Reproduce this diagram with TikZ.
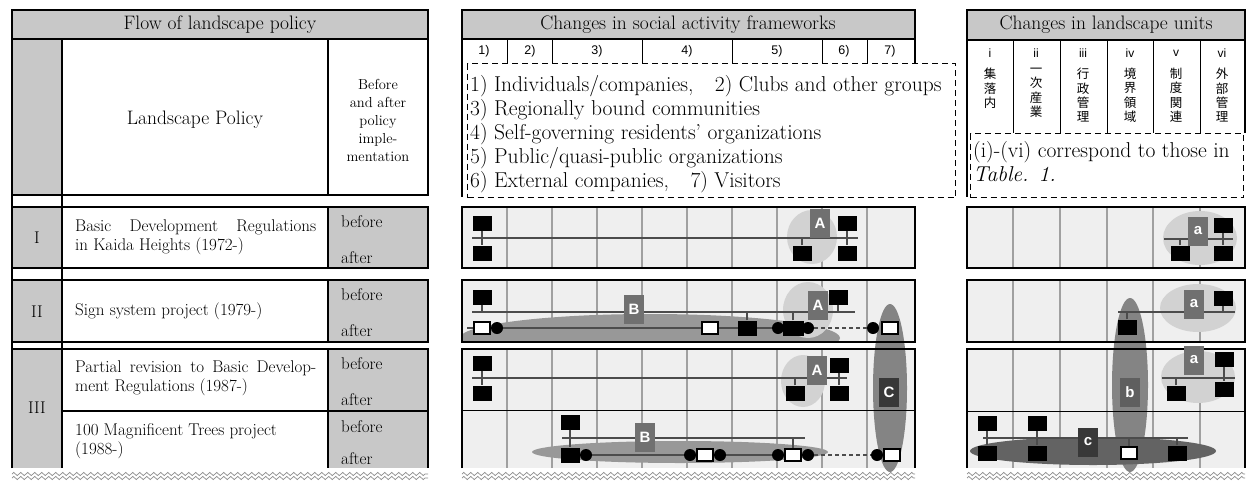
\documentclass[tikz,border=0pt]{standalone}
\usepackage{fontspec}
\usepackage{tikz}
\usetikzlibrary{decorations.pathmorphing}
\newfontfamily\arialfont{Liberation Sans}
\newfontfamily\jpfont{Noto Sans CJK JP}
\definecolor{hdrgray}{RGB}{200,200,200}
\definecolor{rowgray}{RGB}{239,239,239}
\definecolor{gridgray}{RGB}{160,160,160}
\definecolor{zonelight}{RGB}{210,210,210}
\definecolor{zonemid}{RGB}{152,152,152}
\definecolor{zonedark}{RGB}{132,132,132}
\definecolor{tagmid}{RGB}{112,112,112}
\definecolor{tagdark}{RGB}{56,56,56}
\newcommand\jline[1]{\makebox[241pt][s]{#1}}

\begin{document}
\begin{tikzpicture}[
  x=1pt, y=-1pt,
  every node/.style={font=\fontsize{17}{19.5}\selectfont, inner sep=0pt},
  rowframe/.style={line width=2.6pt},
  thinsep/.style={line width=0.9pt},
  gridln/.style={draw=gridgray, line width=1.1pt},
  legbox/.style={draw, line width=1.3pt, dash pattern=on 6pt off 4pt, fill=white, anchor=north west},
  legtext/.style={anchor=north west, align=left, font=\fontsize{21.5}{24}\selectfont},
  hdr/.style={font=\fontsize{19.5}{20}\selectfont},
  numlab/.style={font=\arialfont\fontsize{12.5}{12}\selectfont},
  jp/.style={align=center, anchor=north, font=\jpfont\fontsize{12.5}{14.3}\selectfont},
  blk/.style={fill=black, minimum width=19pt, minimum height=15pt},
  wht/.style={draw, line width=1.6pt, fill=white, minimum width=16pt, minimum height=12pt},
  dot/.style={circle, fill=black, minimum size=12pt},
  tag/.style={minimum width=20pt, minimum height=29pt, text=white, fill=tagmid,
    font=\arialfont\bfseries\fontsize{15}{15}\selectfont},
  bar/.style={draw=black!70, line width=1.6pt},
  gap/.style={bar, dash pattern=on 4pt off 3pt},
  zig/.style={draw=black!45, line width=0.7pt, decorate,
    decoration={zigzag, segment length=7pt, amplitude=1.6pt}}
]
\useasboundingbox (0,0) rectangle (1247,482);

% Row backgrounds and grid
\foreach \t/\b in {207/268,280/342,349/468}{
  \fill[hdrgray] (12,\t) rectangle (62,\b);
  \fill[hdrgray] (328,\t) rectangle (428,\b);
  \fill[rowgray] (462,\t) rectangle (915,\b);
  \fill[rowgray] (967,\t) rectangle (1245,\b);
  \foreach \x in {507,552,597,642,687,732,777,822,867} \draw[gridln] (\x,\t) -- (\x,\b);
  \foreach \x in {1013,1060,1107,1153,1200} \draw[gridln] (\x,\t) -- (\x,\b);
}

% Zones
\begin{scope}
  \clip (462,280) rectangle (915,342);
  \fill[zonemid] (650,338) ellipse [x radius=190pt, y radius=24pt];
\end{scope}
\fill[zonemid] (680,452) ellipse [x radius=148pt, y radius=11pt];
\fill[zonelight] (812,237) ellipse [x radius=25pt, y radius=27pt];
\fill[zonelight] (808,310) ellipse [x radius=25pt, y radius=28pt];
\fill[zonelight] (803,381) ellipse [x radius=22pt, y radius=26pt];
\fill[zonedark] (890,388) ellipse [x radius=17pt, y radius=84pt];
\fill[zonelight] (1200,238) ellipse [x radius=37pt, y radius=27pt];
\fill[zonelight] (1198,308) ellipse [x radius=38pt, y radius=24pt];
\fill[zonelight] (1198,377) ellipse [x radius=37pt, y radius=26pt];
\fill[zonedark] (1130,385) ellipse [x radius=18pt, y radius=87pt];
\fill[zonedark!75!black] (1093,451) ellipse [x radius=123pt, y radius=14pt];

% Left panel: flow of landscape policy
\fill[hdrgray] (12,10) rectangle (428,39);
\fill[hdrgray] (12,39) rectangle (62,195);
\draw[rowframe] (12,10) rectangle (428,39);
\draw[rowframe] (12,39) rectangle (428,195);
\draw[rowframe] (62,39) -- (62,195) (328,39) -- (328,195);
\draw[rowframe] (12,195) -- (12,468) (62,195) -- (62,468);
\draw[rowframe] (12,207) rectangle (428,268);
\draw[rowframe] (12,280) rectangle (428,342);
\draw[rowframe] (12,468) |- (428,349) -- (428,468);
\draw[rowframe] (328,207) -- (328,268) (328,280) -- (328,342) (328,349) -- (328,468);
\draw[rowframe] (62,411) -- (428,411);
\node[hdr] (flowT) at (220,25) {Flow of landscape policy};
\node[font=\fontsize{19.5}{20}\selectfont] (lpT) at (195,120) {Landscape Policy};
\node[align=center, font=\fontsize{14.5}{18}\selectfont] (baT) at (378,120) {Before\\and after\\policy\\imple-\\mentation};
\node (rI) at (37,238) {I};
\node (rII) at (37,312) {II};
\node (rIII) at (37,408) {III};
\node[anchor=west, align=left] (pol1) at (75,237) {\jline{Basic Development Regulations}\\in Kaida Heights (1972-)};
\node[anchor=west] (pol2) at (75,311) {Sign system project (1979-)};
\node[anchor=west, align=left] (pol3) at (75,378) {\jline{Partial revision to Basic Develop-}\\ment Regulations (1987-)};
\node[anchor=west, align=left] (pol4) at (75,441) {100 Magnificent Trees project\\(1988-)};
\foreach \i/\yb/\ya in {1/222/258,2/295/331,3/364/400,4/427/459}{
  \node[anchor=west] (bf\i) at (341,\yb) {before};
  \node[anchor=west] (af\i) at (341,\ya) {after};
}

% Middle panel: social activity frameworks
\fill[hdrgray] (462,10) rectangle (915,39);
\draw[rowframe] (462,10) rectangle (915,39);
\draw[rowframe] (462,39) -- (462,197);
\draw[rowframe] (915,39) -- (915,63);
\foreach \x in {507,552,642,732,822,867} \draw[thinsep] (\x,39) -- (\x,63);
\node[hdr] (socT) at (688,25) {Changes in social activity frameworks};
\foreach \n/\x in {1/484,2/530,3/597,4/687,5/777,6/844,7/890}
  \node[numlab] (num\n) at (\x,51) {\n)};
\node[legbox, minimum width=488pt, minimum height=134pt] (legS) at (467,63) {};
\node[legtext] (legSt) at ([xshift=3pt, yshift=-12pt]legS.north west)
  {1) Individuals/companies,\quad 2) Clubs and other groups\\
   3) Regionally bound communities\\
   4) Self-governing residents' organizations\\
   5) Public/quasi-public organizations\\
   6) External companies,\quad 7) Visitors};
\draw[rowframe] (462,207) rectangle (915,268);
\draw[rowframe] (462,280) rectangle (915,342);
\draw[rowframe] (462,468) |- (915,349) -- (915,468);
\draw[thinsep] (462,410) -- (915,410);

% Right panel: landscape units
\fill[hdrgray] (967,10) rectangle (1245,40);
\draw[rowframe] (967,10) rectangle (1245,40);
\draw[rowframe] (967,40) -- (967,197);
\draw[rowframe] (1245,40) -- (1245,133);
\foreach \x in {1013,1060,1107,1153,1200} \draw[thinsep] (\x,40) -- (\x,133);
\node[hdr] (lanT) at (1106,25) {Changes in landscape units};
\foreach \n/\x/\r in {1/990/i,2/1036/ii,3/1083/iii,4/1130/iv,5/1176/v,6/1222/vi}
  \node[font=\arialfont\fontsize{12}{12}\selectfont] (rn\n) at (\x,53) {\r};
\node[jp] (jp1) at (990,68) {集\\落\\内};
\node[jp] (jp2) at (1036,68) {一\\次\\産\\業};
\node[jp] (jp3) at (1083,68) {行\\政\\管\\理};
\node[jp] (jp4) at (1130,68) {境\\界\\領\\域};
\node[jp] (jp5) at (1176,68) {制\\度\\関\\連};
\node[jp] (jp6) at (1222,68) {外\\部\\管\\理};
\node[legbox, minimum width=273pt, minimum height=64pt] (legU) at (970,133) {};
\node[legtext] (legUt) at ([xshift=3pt, yshift=-8pt]legU.north west)
  {(i)-(vi) correspond to those in\\\textit{Table. 1.}};
\draw[rowframe] (967,207) rectangle (1245,268);
\draw[rowframe] (967,280) rectangle (1245,342);
\draw[rowframe] (967,468) |- (1245,349) -- (1245,468);
\draw[thinsep] (967,411) -- (1245,411);

% Row I, social frameworks
\coordinate (m1L) at (472,238); \coordinate (m1R) at (858,238);
\draw[bar] (m1L) -- (m1R);
\node[blk] (m1a) at (482,223) {};
\node[blk] (m1b) at (482,253) {};
\node[blk] (m1c) at (802,253) {};
\node[blk] (m1d) at (847,223) {};
\node[blk] (m1e) at (847,253) {};
\draw[bar] (m1a) -- (m1b);
\draw[bar] (m1c) -- (m1c |- m1L);
\draw[bar] (m1d) -- (m1e);
\node[tag] (tA1) at (820,223) {A};

% Row II, social frameworks
\coordinate (m2L) at (472,312); \coordinate (m2R) at (855,312);
\coordinate (m2S) at (467,328); \coordinate (m2E) at (808,328);
\draw[bar] (m2L) -- (m2R);
\draw[bar] (m2S) -- (m2E);
\node[blk] (m2a) at (482,297) {};
\node[dot] (m2b) at (497,328) {};
\node[wht] (m2c) at (482,328) {};
\node[wht] (m2d) at (710,328) {};
\node[blk] (m2e) at (747,328) {};
\node[dot] (m2f) at (778,328) {};
\node[dot] (m2h) at (808,328) {};
\node[blk, minimum width=21pt] (m2g) at (793,328) {};
\node[blk] (m2i) at (838,297) {};
\node[dot] (m2j) at (873,328) {};
\node[wht] (m2k) at (890,328) {};
\draw[bar] (m2a) -- (m2a |- m2L);
\draw[bar] (m2e) -- (m2e |- m2L);
\draw[bar] (m2g) -- (m2g |- m2L);
\draw[bar] (m2i) -- (m2i |- m2L);
\draw[gap] (m2h) -- (m2j);
\node[tag] (tB1) at (634,309) {B};
\node[tag] (tA2) at (818,305) {A};

% Row III, social frameworks
\coordinate (m3L) at (472,378); \coordinate (m3R) at (847,378);
\draw[bar] (m3L) -- (m3R);
\node[blk] (m3a) at (482,363) {};
\node[blk] (m3b) at (482,393) {};
\node[blk] (m3c) at (795,393) {};
\node[blk] (m3d) at (839,365) {};
\node[blk] (m3e) at (839,393) {};
\draw[bar] (m3a) -- (m3b);
\draw[bar] (m3c) -- (m3c |- m3L);
\draw[bar] (m3d) -- (m3e);
\node[tag] (tA3) at (817,370) {A};

\coordinate (m4L) at (562,438); \coordinate (m4R) at (805,438);
\coordinate (m4S) at (570,455); \coordinate (m4E) at (808,455);
\draw[bar] (m4L) -- (m4R);
\draw[bar] (m4S) -- (m4E);
\node[blk] (m4a) at (570,422) {};
\node[dot] (m4c) at (586,455) {};
\node[blk] (m4b) at (570,455) {};
\node[dot] (m4d) at (690,455) {};
\node[dot] (m4f) at (720,455) {};
\node[wht] (m4e) at (705,455) {};
\node[dot] (m4g) at (778,455) {};
\node[dot] (m4i) at (808,455) {};
\node[wht] (m4h) at (793,455) {};
\node[dot] (m4j) at (877,455) {};
\node[wht] (m4k) at (892,455) {};
\draw[bar] (m4a) -- (m4b);
\draw[bar] (m4h) -- (m4h |- m4L);
\draw[gap] (m4i) -- (m4j);
\node[tag] (tB2) at (645,437) {B};
\node[tag, fill=tagdark] (tC) at (889,392) {C};

% Landscape units
\coordinate (u1L) at (1164,239); \coordinate (u1R) at (1233,239);
\draw[bar] (u1L) -- (u1R);
\node[blk] (u1a) at (1180,253) {};
\node[blk] (u1b) at (1223,225) {};
\node[blk] (u1c) at (1223,253) {};
\draw[bar] (u1a) -- (u1a |- u1L);
\draw[bar] (u1b) -- (u1c);
\node[tag] (ta1) at (1198,231) {a};

\coordinate (u2L) at (1118,312); \coordinate (u2R) at (1235,312);
\draw[bar] (u2L) -- (u2R);
\node[blk] (u2a) at (1127,327) {};
\node[blk] (u2b) at (1223,298) {};
\draw[bar] (u2a) -- (u2a |- u2L);
\draw[bar] (u2b) -- (u2b |- u2L);
\node[tag] (ta2) at (1194,304) {a};

\coordinate (u3L) at (1162,378); \coordinate (u3R) at (1235,378);
\draw[bar] (u3L) -- (u3R);
\node[blk] (u3a) at (1176,393) {};
\node[blk] (u3b) at (1224,359) {};
\node[blk] (u3c) at (1224,389) {};
\draw[bar] (u3a) -- (u3a |- u3L);
\draw[bar] (u3b) -- (u3c);
\node[tag] (ta3) at (1194,360) {a};
\node[tag, fill=tagmid!85!black] (tb) at (1130,392) {b};

\coordinate (u4L) at (983,438); \coordinate (u4R) at (1188,438);
\draw[bar] (u4L) -- (u4R);
\node[blk] (u4a) at (987,423) {};
\node[blk] (u4b) at (987,453) {};
\node[blk] (u4c) at (1037,423) {};
\node[blk] (u4d) at (1037,453) {};
\node[wht] (u4e) at (1129,453) {};
\node[blk] (u4f) at (1177,453) {};
\draw[bar] (u4a) -- (u4b);
\draw[bar] (u4c) -- (u4d);
\draw[bar] (u4e) -- (u4e |- u4L);
\draw[bar] (u4f) -- (u4f |- u4L);
\node[tag, fill=tagdark] (tc) at (1088,442) {c};

% Cut marks
\foreach \y in {474,478}{
  \draw[zig] (12,\y) -- (428,\y);
  \draw[zig] (462,\y) -- (915,\y);
  \draw[zig] (967,\y) -- (1245,\y);
}
\end{tikzpicture}
\end{document}
